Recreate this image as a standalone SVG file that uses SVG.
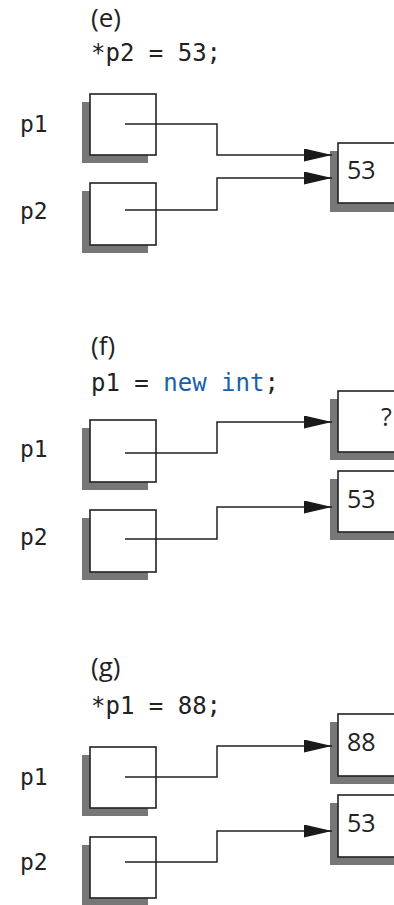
<svg xmlns="http://www.w3.org/2000/svg" width="394" height="905" viewBox="0 0 394 905">
<style>
.bg{fill:#ffffff}
.box{fill:#ffffff;stroke:#222222;stroke-width:1.6}
.sh{fill:#777777}
.code{font-family:"DejaVu Sans Mono","Liberation Mono",monospace;font-size:24px;fill:#222222}
.lab{font-family:"DejaVu Sans Mono","Liberation Mono",monospace;font-size:23px;fill:#222222}
.head{font-family:"Open Sans","Liberation Sans",sans-serif;font-size:26px;fill:#222222}
.val{font-family:"Open Sans","Liberation Sans",sans-serif;font-size:25px;fill:#222222}
.kw{fill:#1a5fa8}
.conn{fill:none;stroke:#222222;stroke-width:1.5}
</style>
<defs>
<marker id="ah" markerUnits="userSpaceOnUse" markerWidth="28" markerHeight="13" refX="28" refY="6.5" orient="auto">
<path d="M0,0 L28,6.5 L0,13 z" fill="#1a1a1a"/>
</marker>
</defs>
<rect class="bg" x="0" y="0" width="394" height="905"/>

<!-- Section e -->
<g id="e-title">
<text class="head" x="91" y="27">(e)</text>
<text class="code" x="91" y="61">*p2 = 53;</text>
</g>
<g id="e-p1">
<text class="lab" x="20" y="132">p1</text>
<rect class="sh" x="82" y="102" width="66" height="61"/>
<rect class="box" x="90" y="94" width="66" height="61"/>
</g>
<g id="e-p2">
<text class="lab" x="20" y="219">p2</text>
<rect class="sh" x="82" y="191" width="66" height="62"/>
<rect class="box" x="90" y="183" width="66" height="62"/>
</g>
<g id="e-v53">
<rect class="sh" x="330" y="151" width="80" height="61"/>
<rect class="box" x="338" y="143" width="80" height="60"/>
<text class="val" x="347" y="179">53</text>
</g>

<!-- Section f -->
<g id="f-title">
<text class="head" x="91" y="355">(f)</text>
<text class="code" x="91" y="391">p1 = <tspan class="kw">new int</tspan>;</text>
</g>
<g id="f-p1">
<text class="lab" x="20" y="457">p1</text>
<rect class="sh" x="82" y="428" width="66" height="62"/>
<rect class="box" x="90" y="420" width="66" height="62"/>
</g>
<g id="f-p2">
<text class="lab" x="20" y="545">p2</text>
<rect class="sh" x="82" y="518" width="66" height="62"/>
<rect class="box" x="90" y="510" width="66" height="62"/>
</g>
<g id="f-vq">
<rect class="sh" x="330" y="399" width="80" height="61"/>
<rect class="box" x="338" y="391" width="80" height="61"/>
<text class="val" x="381" y="426">?</text>
</g>
<g id="f-v53">
<rect class="sh" x="330" y="479" width="80" height="61"/>
<rect class="box" x="338" y="471" width="80" height="61"/>
<text class="val" x="347" y="508">53</text>
</g>

<!-- Section g -->
<g id="g-title">
<text class="head" x="91" y="676">(g)</text>
<text class="code" x="91" y="714">*p1 = 88;</text>
</g>
<g id="g-p1">
<text class="lab" x="20" y="785">p1</text>
<rect class="sh" x="82" y="755" width="66" height="61"/>
<rect class="box" x="90" y="747" width="66" height="61"/>
</g>
<g id="g-p2">
<text class="lab" x="20" y="870">p2</text>
<rect class="sh" x="82" y="845" width="66" height="61"/>
<rect class="box" x="90" y="837" width="66" height="61"/>
</g>
<g id="g-v88">
<rect class="sh" x="330" y="722" width="80" height="62"/>
<rect class="box" x="338" y="714" width="80" height="62"/>
<text class="val" x="347" y="751">88</text>
</g>
<g id="g-v53">
<rect class="sh" x="330" y="803" width="80" height="62"/>
<rect class="box" x="338" y="795" width="80" height="62"/>
<text class="val" x="347" y="832">53</text>
</g>

<g id="connectors">
<path class="conn" d="M125,124 H217 V155 H332" marker-end="url(#ah)"/>
<path class="conn" d="M125,210 H217 V178 H332" marker-end="url(#ah)"/>
<path class="conn" d="M125,453 H217 V422 H332" marker-end="url(#ah)"/>
<path class="conn" d="M125,539 H217 V507 H332" marker-end="url(#ah)"/>
<path class="conn" d="M125,777 H217 V746 H332" marker-end="url(#ah)"/>
<path class="conn" d="M125,862 H217 V831 H332" marker-end="url(#ah)"/>
</g>
</svg>
